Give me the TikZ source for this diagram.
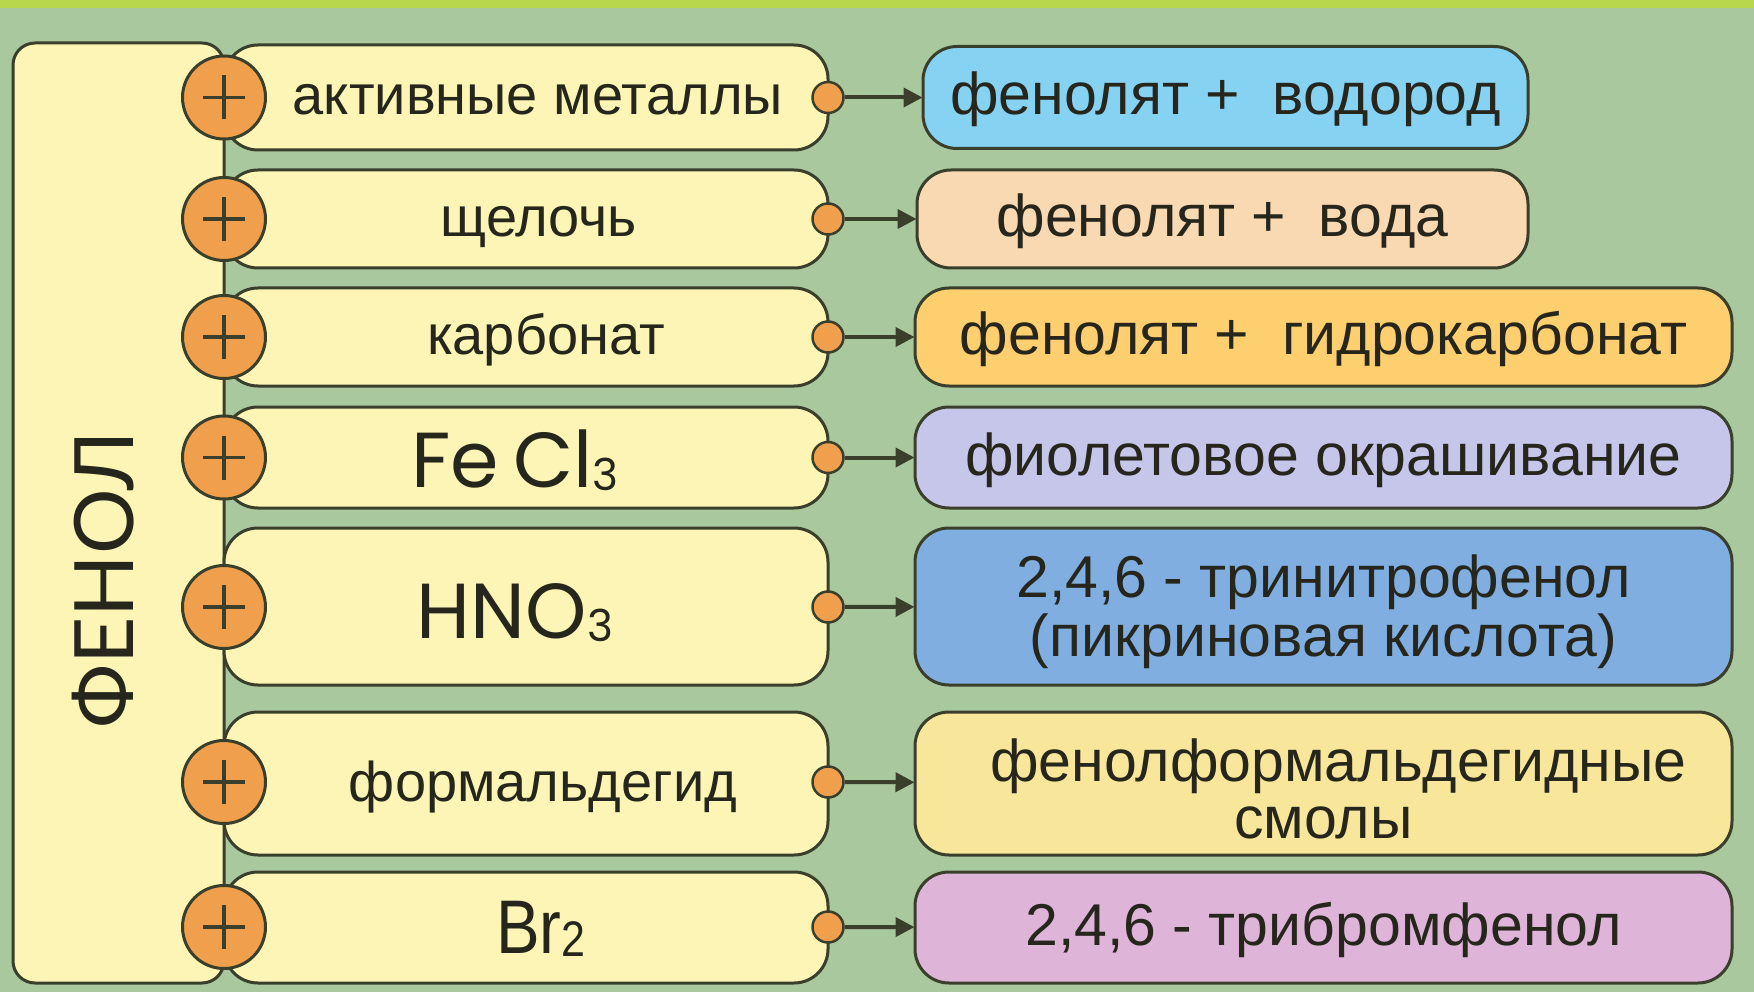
\documentclass[tikz,border=0pt]{standalone}
\usepackage{fontspec}
\setmainfont{Liberation Sans}
\newfontfamily\geofont{Poppins}
\newfontfamily\titlefont{Lato}
\usetikzlibrary{arrows.meta}
\definecolor{bg}{HTML}{A9C89E}
\definecolor{topbar}{HTML}{B7D84C}
\definecolor{edge}{HTML}{3A3F2C}
\definecolor{ink}{HTML}{26261C}
\definecolor{yel}{HTML}{FCF5B6}
\definecolor{org}{HTML}{F0A04C}
\definecolor{cA}{HTML}{86D2F2}
\definecolor{cB}{HTML}{F8D9B2}
\definecolor{cC}{HTML}{FECF6E}
\definecolor{cD}{HTML}{C6C6EA}
\definecolor{cE}{HTML}{80AEE0}
\definecolor{cF}{HTML}{F8E79A}
\definecolor{cG}{HTML}{DEB4D9}
\newcommand{\txtsize}{\fontsize{56}{59}\selectfont}
\newcommand{\ressize}{\fontsize{59}{59}\selectfont}
\newcommand{\formsize}{\geofont\fontsize{78}{80}\selectfont}
\newcommand{\subsc}[1]{\raisebox{-3pt}{\fontsize{44}{44}\selectfont #1}}
\begin{document}
\begin{tikzpicture}[x=1pt,y=-1pt,
  ybox/.style={draw=edge, fill=yel, line width=3pt, rounded corners=34pt,
    minimum width=604pt, inner sep=0pt, text=ink, font=\txtsize,
    text height=35pt, text depth=0pt},
  rbox/.style={draw=edge, line width=3pt, rounded corners=34pt,
    inner sep=0pt, text=ink, font=\ressize, align=center},
  oneline/.style={text height=35pt, text depth=0pt},
  plusnode/.style={circle, draw=edge, fill=org, line width=3pt, minimum size=83pt,
    inner sep=0pt,
    path picture={\draw[edge, line width=3.5pt]
      ([xshift=-21pt]path picture bounding box.center) -- ([xshift=21pt]path picture bounding box.center)
      ([yshift=-22pt]path picture bounding box.center) -- ([yshift=22pt]path picture bounding box.center);}},
  dotnode/.style={circle, draw=edge, fill=org, line width=2.5pt, minimum size=31pt, inner sep=0pt},
  arr/.style={draw=edge, line width=4pt, -{Triangle[length=19pt,width=19pt]}, shorten >=-1pt}
]
\useasboundingbox (0,0) rectangle (1754,992);
\fill[bg] (0,0) rectangle (1754,992);
\fill[topbar] (0,0) rectangle (1754,8);

% phenol box
\node[draw=edge, fill=yel, line width=3pt, rounded corners=22pt,
  minimum width=211pt, minimum height=940pt, inner sep=0pt] (phenol) at (118.5,513) {};
\node[rotate=90, text=ink, font=\titlefont\fontsize{82}{82}\selectfont, inner sep=0pt] (phenoltxt) at (103,580) {ФЕНОЛ};

% reagent boxes
\node[ybox, minimum height=105pt] (y1) at (526,97.5) {\hspace*{24pt}активные металлы};
\node[ybox, minimum height=98pt] (y2) at (526,219) {\hspace*{26pt}щелочь};
\node[ybox, minimum height=98pt] (y3) at (526,337) {\hspace*{40pt}карбонат};
\node[ybox, minimum height=101pt] (y4) at (526,457.5) {};
\node[ybox, minimum height=157pt] (y5) at (526,606.5) {};
\node[ybox, minimum height=143pt] (y6) at (526,783.5) {\hspace*{34pt}формальдегид};
\node[ybox, minimum height=111pt] (y7) at (526,927.5) {};
\node[text=ink, inner sep=0pt, font=\formsize, anchor=base] (f4) at (515,487) {Fe\hspace{14pt}Cl\subsc{3}};
\node[text=ink, inner sep=0pt, font=\formsize, anchor=base] (f5) at (515,638) {HNO\subsc{3}};
\node[text=ink, inner sep=0pt, font=\fontsize{76}{76}\selectfont, anchor=base] (f7) at (541,953) {\scalebox{0.86}[1]{Br\raisebox{-3pt}{\fontsize{50}{50}\selectfont 2}}};

% plus circles
\node[plusnode] (p1) at (224,97.5) {};
\node[plusnode] (p2) at (224,219) {};
\node[plusnode] (p3) at (224,337) {};
\node[plusnode] (p4) at (224,457.5) {};
\node[plusnode] (p5) at (224,607) {};
\node[plusnode] (p6) at (224,782) {};
\node[plusnode] (p7) at (224,927) {};

% output dots
\node[dotnode] (d1) at (828,97.5) {};
\node[dotnode] (d2) at (828,219) {};
\node[dotnode] (d3) at (828,337) {};
\node[dotnode] (d4) at (828,457.5) {};
\node[dotnode] (d5) at (828,607) {};
\node[dotnode] (d6) at (828,782) {};
\node[dotnode] (d7) at (828,927) {};

% result boxes
\node[rbox, oneline, fill=cA, minimum width=605pt, minimum height=102pt] (r1) at (1225.5,97.5) {фенолят +\ \ водород};
\node[rbox, oneline, fill=cB, minimum width=611pt, minimum height=98pt] (r2) at (1222.5,219) {фенолят +\ \ вода};
\node[rbox, oneline, fill=cC, minimum width=817pt, minimum height=98pt] (r3) at (1323.5,337) {фенолят +\ \ гидрокарбонат};
\node[rbox, oneline, fill=cD, minimum width=817pt, minimum height=101pt] (r4) at (1323.5,457.5) {фиолетовое окрашивание};
\node[rbox, fill=cE, minimum width=817pt, minimum height=157pt] (r5) at (1323.5,606.5) {\rule{0pt}{53pt}2,4,6 - тринитрофенол\\(пикриновая кислота)};
\node[rbox, fill=cF, minimum width=817pt, minimum height=143pt] (r6) at (1323.5,783.5) {\rule{0pt}{54pt}\hspace*{30pt}фенолформальдегидные\\[-2pt]смолы};
\node[rbox, oneline, fill=cG, minimum width=817pt, minimum height=111pt] (r7) at (1323.5,927.5) {2,4,6 - трибромфенол};

% arrows
\draw[arr] (d1) -- (r1);
\draw[arr] (d2) -- (r2);
\draw[arr] (d3) -- (r3);
\draw[arr] (d4) -- (r4);
\draw[arr] (d5) -- (r5);
\draw[arr] (d6) -- (r6);
\draw[arr] (d7) -- (r7);
\end{tikzpicture}
\end{document}
